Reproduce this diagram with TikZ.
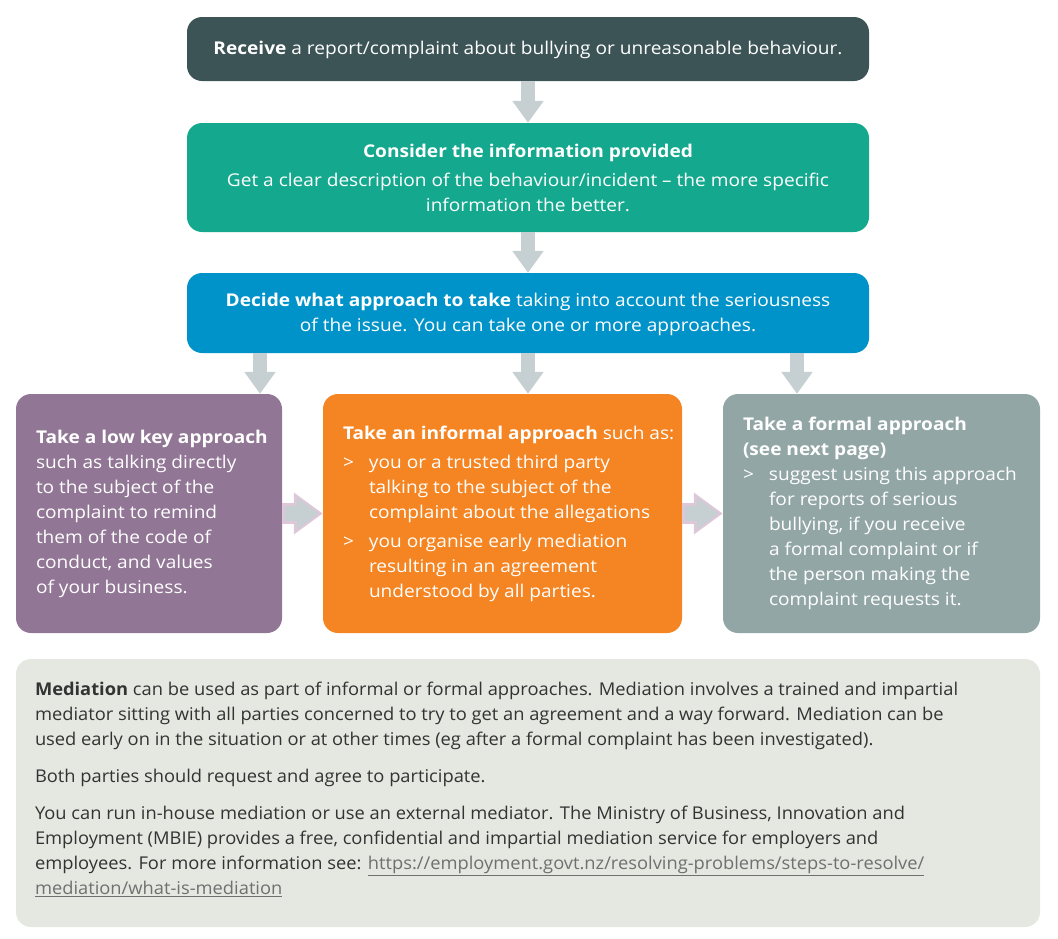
\documentclass[tikz,border=0pt]{standalone}
\usepackage{fontspec}
\setmainfont[FakeStretch=1.04]{Open Sans}
\newfontfamily\widefont[FakeStretch=1.085]{Open Sans}
\usetikzlibrary{arrows.meta,calc}
\definecolor{cdark}{HTML}{3C5456}
\definecolor{cteal}{HTML}{14A98E}
\definecolor{cblue}{HTML}{0093C9}
\definecolor{cpurple}{HTML}{917695}
\definecolor{corange}{HTML}{F48522}
\definecolor{cgray}{HTML}{93A6A6}
\definecolor{cbottom}{HTML}{E5E7E1}
\definecolor{carrow}{HTML}{C6CFD1}
\definecolor{cpink}{HTML}{DDC7D9}
\definecolor{ctext}{HTML}{333333}
\definecolor{clink}{HTML}{707070}
\newcommand{\bul}{\makebox[26pt][l]{>}}
\newcommand{\ind}{\hspace*{26pt}}
\newcommand{\lnk}[1]{\textcolor{clink}{\underline{#1}}}
\begin{document}
\begin{tikzpicture}[x=1pt,y=-1pt,
  box/.style={rounded corners=15pt,inner sep=0pt,draw=none},
  txt/.style={inner sep=0pt,font=\widefont\fontsize{17.6}{25}\selectfont},
  btxt/.style={inner sep=0pt,font=\fontsize{17.6}{25}\selectfont},
  vdown/.style={draw=carrow,line width=14pt,-{Triangle[width=30pt,length=22pt]}},
  hout/.style={draw=cpink,line width=21pt,-{Triangle[width=40pt,length=29pt]}},
  hin/.style={draw=carrow,line width=15pt,shorten >=4pt,-{Triangle[width=31pt,length=22pt]}}]
\useasboundingbox (0,0) rectangle (1058,938);
% boxes
\node[box,fill=cdark,minimum width=682pt,minimum height=64pt] (b1) at (528,49) {};
\node[box,fill=cteal,minimum width=682pt,minimum height=109pt] (b2) at (528,177.5) {};
\node[box,fill=cblue,minimum width=682pt,minimum height=80pt] (b3) at (528,313) {};
\node[box,fill=cpurple,minimum width=266pt,minimum height=239pt] (b4) at (149,513.5) {};
\node[box,fill=corange,minimum width=359pt,minimum height=239pt] (b5) at (502.5,513.5) {};
\node[box,fill=cgray,minimum width=317pt,minimum height=239pt] (b6) at (881.5,513.5) {};
\node[box,fill=cbottom,minimum width=1024pt,minimum height=268pt] (b7) at (528,793) {};
% texts
\node[txt,text=white,align=center] (t1) at ($(b1.center)+(0,1)$) {\textbf{Receive} a report/complaint about bullying or unreasonable behaviour.};
\node[txt,text=white,align=center] (t2) at ($(b2.center)+(0,0)$) {\textbf{Consider the information provided}\\[4pt]
Get a clear description of the behaviour/incident – the more specific\\
information the better.};
\node[txt,text=white,align=center] (t3) at ($(b3.center)+(0,1)$) {\textbf{Decide what approach to take} taking into account the seriousness\\
of the issue. You can take one or more approaches.};
\node[txt,text=white,align=left,anchor=west] (t4) at ($(b4.west)+(20,0)$) {\textbf{Take a low key approach}\\
such as talking directly\\
to the subject of the\\
complaint to remind\\
them of the code of\\
conduct, and values\\
of your business.};
\node[txt,text=white,align=left,anchor=west] (t5) at ($(b5.west)+(20,0)$) {\textbf{Take an informal approach} such as:\\[4pt]
\bul you or a trusted third party\\
\ind talking to the subject of the\\
\ind complaint about the allegations\\[4pt]
\bul you organise early mediation\\
\ind resulting in an agreement\\
\ind understood by all parties.};
\node[txt,text=white,align=left,anchor=west] (t6) at ($(b6.west)+(20,0)$) {\textbf{Take a formal approach}\\
\textbf{(see next page)}\\
\bul suggest using this approach\\
\ind for reports of serious\\
\ind bullying, if you receive\\
\ind a formal complaint or if\\
\ind the person making the\\
\ind complaint requests it.};
\node[btxt,text=ctext,align=left,anchor=west] (t7) at ($(b7.west)+(19,-4)$) {\textbf{Mediation} can be used as part of informal or formal approaches. Mediation involves a trained and impartial\\
mediator sitting with all parties concerned to try to get an agreement and a way forward. Mediation can be\\
used early on in the situation or at other times (eg after a formal complaint has been investigated).\\[12pt]
Both parties should request and agree to participate.\\[12pt]
You can run in-house mediation or use an external mediator. The Ministry of Business, Innovation and\\
Employment (MBIE) provides a free, confidential and impartial mediation service for employers and\\
employees. For more information see: \lnk{https://employment.govt.nz/resolving-problems/steps-to-resolve/}\\
\lnk{mediation/what-is-mediation}};
% vertical arrows
\draw[vdown] (b1.south) -- (b2.north);
\draw[vdown] (b2.south) -- (b3.north);
\draw[vdown] (b3.south -| b4.north) ++(111,0) coordinate (a4) -- (a4 |- b4.north);
\draw[vdown] (b3.south -| b5.north) ++(25.5,0) coordinate (a5) -- (a5 |- b5.north);
\draw[vdown] (b3.south -| b6.north) ++(-84.5,0) coordinate (a6) -- (a6 |- b6.north);
% horizontal arrows
\draw[hout] (b4.east) -- (b5.west);
\draw[hin] ($(b4.east)+(2.5,0)$) -- (b5.west);
\draw[hout] (b5.east) -- (b6.west);
\draw[hin] ($(b5.east)+(2.5,0)$) -- (b6.west);
\end{tikzpicture}
\end{document}
